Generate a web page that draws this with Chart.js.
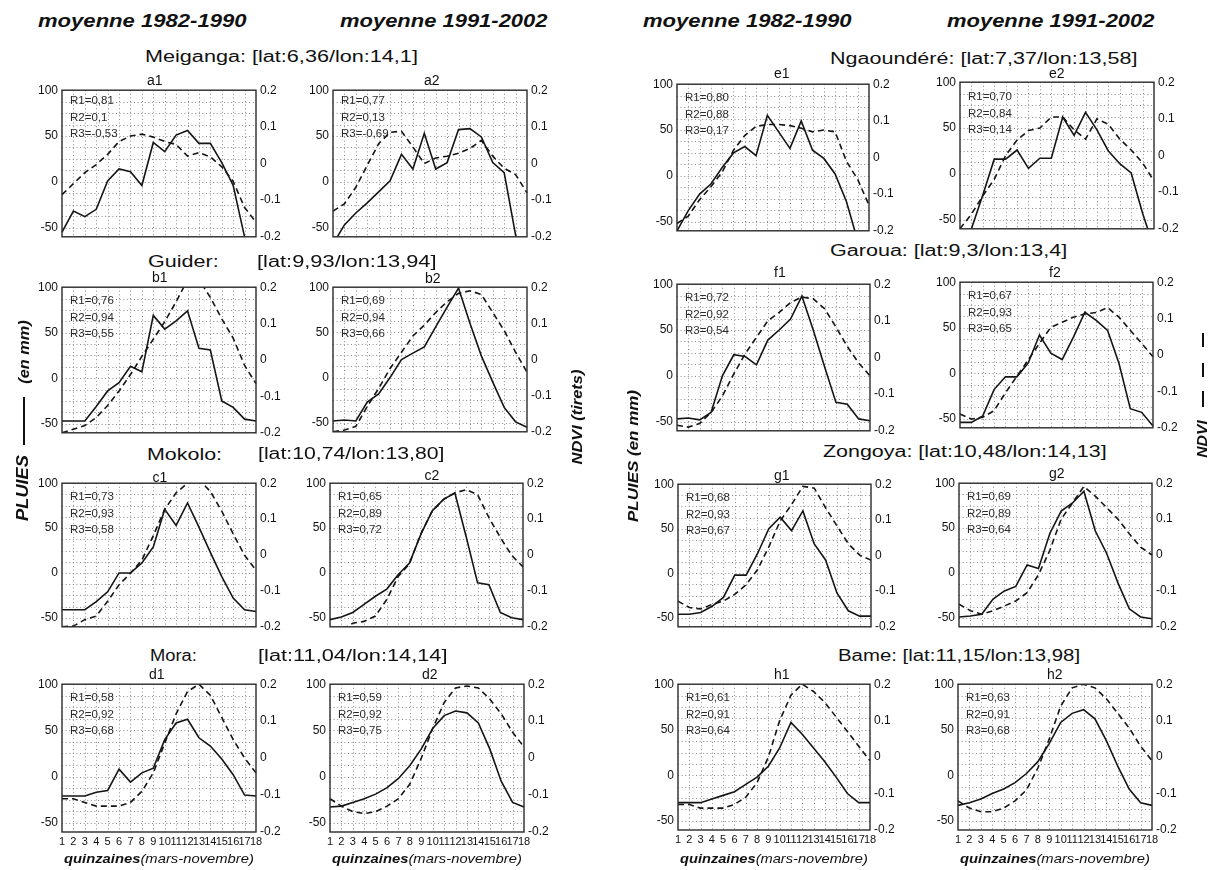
<!DOCTYPE html>
<html><head><meta charset="utf-8">
<script src="https://cdn.jsdelivr.net/npm/chart.js@4.4.1/dist/chart.umd.min.js"></script>
<style>
body{margin:0;background:#fff;width:1216px;height:870px;overflow:hidden;position:relative;}
.t{position:absolute;white-space:nowrap;color:#111;line-height:1;}
canvas{position:absolute;}
.bar{position:absolute;background:#111;}
</style></head><body>
<script>
// ---------- DATA ----------
const quinzaines = ['1','2','3','4','5','6','7','8','9','10','11','12','13','14','15','16','17','18'];
const pluieTicks = [-50, 0, 50, 100];
const ndviTicks = [-0.2, -0.1, 0, 0.1, 0.2];

// Meiganga
const pluie_a1 = [-55,-32,-38,-30,1,14,11,-4,43,33,51,56,42,42,21,-4,-60,-90];
const ndvi_a1  = [-0.085,-0.055,-0.025,-0.003,0.025,0.06,0.075,0.08,0.072,0.06,0.052,0.02,0.03,0.018,-0.009,-0.049,-0.12,-0.16];
const pluie_a2 = [-68,-47,-34,-23,-11,1,30,14,53,14,21,57,58,49,21,10,-58,-95];
const ndvi_a2  = [-0.13,-0.11,-0.065,-0.005,0.054,0.085,0.088,0.045,0.0,0.015,0.02,0.028,0.041,0.063,0.02,-0.013,-0.03,-0.08];
// Guider
const pluie_b1 = [-47,-47,-47,-31,-14,-5,13,7,69,54,63,74,33,31,-25,-32,-45,-47];
const ndvi_b1  = [-0.2,-0.19,-0.18,-0.158,-0.125,-0.085,-0.04,0.01,0.057,0.105,0.16,0.22,0.22,0.172,0.113,0.06,-0.015,-0.065];
const pluie_b2 = [-48,-47,-48,-27,-18,0,20,27,34,56,78,99,60,24,-5,-33,-49,-55];
const ndvi_b2  = [-0.2,-0.195,-0.185,-0.13,-0.08,-0.025,0.02,0.065,0.095,0.13,0.16,0.183,0.19,0.18,0.13,0.08,0.02,-0.035];
// Mokolo
const pluie_c1 = [-41,-41,-41,-32,-21,0,0,11,29,71,53,78,51,23,-4,-28,-41,-43];
const ndvi_c1  = [-0.2,-0.198,-0.18,-0.17,-0.129,-0.083,-0.051,-0.014,0.054,0.127,0.173,0.2,0.21,0.177,0.122,0.059,-0.001,-0.042];
const pluie_c2 = [-52,-49,-44,-35,-26,-18,-2,11,43,69,82,89,40,-11,-13,-44,-50,-52];
const ndvi_c2  = [-0.25,-0.21,-0.19,-0.185,-0.17,-0.124,-0.06,-0.024,0.059,0.122,0.155,0.173,0.182,0.168,0.104,0.049,-0.001,-0.033];
// Mora
const pluie_d1 = [-21,-21,-21,-17,-15,8,-6,4,9,40,58,62,42,33,19,2,-20,-21];
const ndvi_d1  = [-0.11,-0.11,-0.12,-0.13,-0.13,-0.13,-0.12,-0.09,-0.04,0.04,0.12,0.18,0.2,0.17,0.11,0.05,0.0,-0.04];
const pluie_d2 = [-33,-32,-28,-24,-19,-12,-2,12,30,52,66,71,69,58,30,-5,-28,-33];
const ndvi_d2  = [-0.11,-0.13,-0.145,-0.15,-0.145,-0.13,-0.11,-0.07,0.0,0.08,0.15,0.19,0.195,0.19,0.16,0.12,0.07,0.03];
// Ngaoundere
const pluie_e1 = [-60,-38,-20,-9,9,25,32,22,66,48,30,60,28,19,2,-28,-71,-97];
const ndvi_e1  = [-0.18,-0.16,-0.115,-0.08,-0.04,0.02,0.06,0.085,0.09,0.09,0.087,0.08,0.07,0.075,0.07,-0.01,-0.06,-0.13];
const pluie_e2 = [-92,-60,-23,16,16,26,6,17,17,62,42,67,48,25,11,1,-43,-81];
const ndvi_e2  = [-0.2,-0.16,-0.11,-0.065,0.0,0.042,0.068,0.075,0.105,0.105,0.07,0.045,0.1,0.085,0.045,0.015,-0.02,-0.07];
// Garoua
const pluie_f1 = [-47,-46,-48,-40,0,23,21,12,39,50,62,87,50,10,-29,-31,-47,-49];
const ndvi_f1  = [-0.185,-0.19,-0.18,-0.15,-0.105,-0.045,0.01,0.055,0.1,0.123,0.15,0.165,0.16,0.133,0.083,0.03,-0.015,-0.05];
const pluie_f2 = [-54,-54,-47,-18,-4,-4,11,42,22,15,40,67,58,47,11,-39,-43,-58];
const ndvi_f2  = [-0.162,-0.176,-0.171,-0.153,-0.104,-0.059,-0.014,0.032,0.076,0.09,0.104,0.113,0.117,0.13,0.104,0.068,0.032,-0.005];
// Zongoya
const pluie_g1 = [-46,-46,-44,-37,-27,-2,-2,22,50,63,48,70,33,15,-22,-42,-48,-48];
const ndvi_g1  = [-0.128,-0.146,-0.15,-0.137,-0.128,-0.109,-0.082,-0.04,0.024,0.097,0.143,0.194,0.189,0.134,0.083,0.033,0.001,-0.013];
const pluie_g2 = [-49,-48,-46,-29,-20,-15,9,5,44,69,78,91,47,22,-11,-40,-49,-51];
const ndvi_g2  = [-0.137,-0.155,-0.165,-0.155,-0.142,-0.128,-0.105,-0.055,0.013,0.1,0.145,0.191,0.164,0.132,0.1,0.059,0.022,0.0];
// Bame
const pluie_h1 = [-30,-30,-30,-26,-22,-18,-10,-2,10,30,58,45,30,15,-2,-20,-30,-30];
const ndvi_h1  = [-0.13,-0.13,-0.14,-0.14,-0.14,-0.13,-0.11,-0.07,0.0,0.1,0.17,0.2,0.18,0.15,0.11,0.07,0.03,-0.01];
const pluie_h2 = [-33,-30,-26,-20,-15,-8,2,15,35,58,68,72,62,38,10,-15,-30,-33];
const ndvi_h2  = [-0.12,-0.14,-0.15,-0.15,-0.14,-0.12,-0.09,-0.03,0.05,0.14,0.19,0.2,0.19,0.16,0.12,0.08,0.03,-0.01];

const corr_a1 = ['R1=0,81','R2=0,1','R3=-0,53'];
const corr_a2 = ['R1=0,77','R2=0,13','R3=-0,69'];
const corr_b1 = ['R1=0,76','R2=0,94','R3=0,55'];
const corr_b2 = ['R1=0,69','R2=0,94','R3=0,66'];
const corr_c1 = ['R1=0,73','R2=0,93','R3=0,58'];
const corr_c2 = ['R1=0,65','R2=0,89','R3=0,72'];
const corr_d1 = ['R1=0,58','R2=0,92','R3=0,68'];
const corr_d2 = ['R1=0,59','R2=0,92','R3=0,75'];
const corr_e1 = ['R1=0,80','R2=0,88','R3=0,17'];
const corr_e2 = ['R1=0,70','R2=0,84','R3=0,14'];
const corr_f1 = ['R1=0,72','R2=0,92','R3=0,54'];
const corr_f2 = ['R1=0,67','R2=0,93','R3=0,65'];
const corr_g1 = ['R1=0,68','R2=0,93','R3=0,67'];
const corr_g2 = ['R1=0,69','R2=0,89','R3=0,64'];
const corr_h1 = ['R1=0,61','R2=0,91','R3=0,64'];
const corr_h2 = ['R1=0,63','R2=0,91','R3=0,68'];

// ---------- LAYOUT ----------
const FAM = '"Liberation Sans", Arial, Helvetica, sans-serif';
const panels = [
  {id:'a1', p:pluie_a1, n:ndvi_a1, r:corr_a1, box:[62,89,256,238], rdy:11},
  {id:'a2', p:pluie_a2, n:ndvi_a2, r:corr_a2, box:[333,89,527,238], rdy:11},
  {id:'e1', p:pluie_e1, n:ndvi_e1, r:corr_e1, box:[677,83,869,232], rdy:14},
  {id:'e2', p:pluie_e2, n:ndvi_e2, r:corr_e2, box:[960,81,1154,230], rdy:15},
  {id:'b1', p:pluie_b1, n:ndvi_b1, r:corr_b1, box:[62,286,256,434], rdy:14},
  {id:'b2', p:pluie_b2, n:ndvi_b2, r:corr_b2, box:[333,286,527,433], rdy:14},
  {id:'f1', p:pluie_f1, n:ndvi_f1, r:corr_f1, box:[677,283,870,432], rdy:14},
  {id:'f2', p:pluie_f2, n:ndvi_f2, r:corr_f2, box:[960,281,1153,429], rdy:14},
  {id:'c1', p:pluie_c1, n:ndvi_c1, r:corr_c1, box:[62,482,256,628], rdy:14},
  {id:'c2', p:pluie_c2, n:ndvi_c2, r:corr_c2, box:[330,482,523,628], rdy:14},
  {id:'g1', p:pluie_g1, n:ndvi_g1, r:corr_g1, box:[678,483,871,628], rdy:14},
  {id:'g2', p:pluie_g2, n:ndvi_g2, r:corr_g2, box:[959,482,1152,628], rdy:14},
  {id:'d1', p:pluie_d1, n:ndvi_d1, r:corr_d1, box:[62,683,256,832], rdy:14, bottom:true},
  {id:'d2', p:pluie_d2, n:ndvi_d2, r:corr_d2, box:[330,683,524,832], rdy:14, bottom:true},
  {id:'h1', p:pluie_h1, n:ndvi_h1, r:corr_h1, box:[678,683,870,830], rdy:14, bottom:true},
  {id:'h2', p:pluie_h2, n:ndvi_h2, r:corr_h2, box:[958,683,1152,830], rdy:14, bottom:true}
];

const gridBox = {
  id:'gridBox',
  beforeDatasetsDraw(chart){
    const {ctx, chartArea:a, scales} = chart;
    ctx.save();
    ctx.strokeStyle = '#8c8c8c'; ctx.lineWidth = 1; ctx.setLineDash([1,2.6]);
    ctx.beginPath();
    for (let i = 1; i < quinzaines.length - 1; i++) {
      const x = Math.round(scales.x.getPixelForValue(i)) + 0.5;
      ctx.moveTo(x, a.top); ctx.lineTo(x, a.bottom);
    }
    for (let v = -50; v < 100; v += 12.5) {
      const y = Math.round(scales.y.getPixelForValue(v)) + 0.5;
      ctx.moveTo(a.left, y); ctx.lineTo(a.right, y);
    }
    ctx.stroke();
    ctx.restore();
  },
  afterDatasetsDraw(chart){
    const {ctx, chartArea:a} = chart;
    ctx.save();
    ctx.strokeStyle = '#2a2a2a'; ctx.lineWidth = 1.4; ctx.setLineDash([]);
    ctx.strokeRect(a.left, a.top, a.right - a.left, a.bottom - a.top);
    ctx.restore();
  }
};

function makePanel(pn){
  const [L,T,R,B] = pn.box;
  const padL = 44, padR = 44, padT = 10, padB = pn.bottom ? 20 : 10;
  const W = R - L, H = B - T;
  const cv = document.createElement('canvas');
  cv.width = W + padL + padR; cv.height = H + padT + padB;
  cv.style.left = (L - padL) + 'px'; cv.style.top = (T - padT) + 'px';
  cv.style.width = cv.width + 'px'; cv.style.height = cv.height + 'px';
  document.body.appendChild(cv);
  const noGrid = {display:false, drawTicks:false, tickLength:0};
  new Chart(cv, {
    type:'line',
    data:{labels:quinzaines, datasets:[
      {label:'Pluies', data:pn.p, yAxisID:'y', borderColor:'#151515', borderWidth:1.6, pointRadius:0, tension:0, fill:false},
      {label:'NDVI', data:pn.n, yAxisID:'y2', borderColor:'#151515', borderWidth:1.6, borderDash:[6,4], pointRadius:0, tension:0, fill:false}
    ]},
    options:{
      responsive:false, animation:false, devicePixelRatio:1,
      layout:{autoPadding:false, padding:{top:padT, bottom:0, left:0, right:0}},
      plugins:{legend:{display:false}, tooltip:{enabled:false}, title:{display:false}},
      scales:{
        x:{type:'category', offset:false, grid:noGrid, border:{display:false},
           ticks:{display:!!pn.bottom, autoSkip:false, maxRotation:0, minRotation:0, padding:3, color:'#111', font:{size:11, family:FAM}},
           afterFit:s=>{s.height = padB;}},
        y:{position:'left', min:-60, max:100, grid:noGrid, border:{display:false},
           afterBuildTicks:s=>{s.ticks = pluieTicks.map(v=>({value:v}));},
           ticks:{padding:4, color:'#111', font:{size:12, family:FAM}},
           afterFit:s=>{s.width = padL;}},
        y2:{position:'right', min:-0.2, max:0.2, grid:noGrid, border:{display:false},
           afterBuildTicks:s=>{s.ticks = ndviTicks.map(v=>({value:v}));},
           ticks:{padding:4, color:'#111', font:{size:12, family:FAM}, callback:v=>String(Math.round(v*10)/10)},
           afterFit:s=>{s.width = padR;}}
      }
    },
    plugins:[gridBox]
  });
}

function addText(html, o){
  const el = document.createElement('div');
  el.className = 't';
  el.innerHTML = html;
  el.style.font = `${o.style||'normal'} ${o.weight||'normal'} ${o.size||14}px ${FAM}`;
  el.style.color = o.color || '#111';
  document.body.appendChild(el);
  const mw = el.offsetWidth, h = el.offsetHeight;
  const s = o.w ? o.w / mw : 1;
  if (o.rot) {
    el.style.left = o.x + 'px'; el.style.top = o.y + 'px';
    el.style.transform = `translate(-50%,-50%) rotate(-90deg) scaleX(${s})`;
  } else {
    let left = o.x;
    if (o.align === 'center') left = o.x - (o.w || mw) / 2;
    el.style.left = left + 'px'; el.style.top = (o.y - h / 2) + 'px';
    el.style.transformOrigin = 'left center';
    el.style.transform = `scaleX(${s})`;
  }
}
function bar(x, y, w, h){
  const d = document.createElement('div'); d.className = 'bar';
  d.style.left = x + 'px'; d.style.top = y + 'px'; d.style.width = w + 'px'; d.style.height = h + 'px';
  document.body.appendChild(d);
}

panels.forEach(makePanel);

// column headers
const hdr = {size:19, weight:'bold', style:'italic'};
addText('moyenne 1982-1990', {...hdr, x:38, y:21, w:209});
addText('moyenne 1991-2002', {...hdr, x:340, y:21, w:208});
addText('moyenne 1982-1990', {...hdr, x:643, y:21, w:209});
addText('moyenne 1991-2002', {...hdr, x:947, y:21, w:208});

// station titles
const st = {size:16};
addText('Meiganga: [lat:6,36/lon:14,1]', {...st, x:145, y:57, w:273});
addText('Guider:', {...st, x:148, y:262, w:70});
addText('[lat:9,93/lon:13,94]', {...st, x:257, y:262, w:180});
addText('Mokolo:', {...st, x:147, y:455, w:75});
addText('[lat:10,74/lon:13,80]', {...st, x:258, y:454, w:187});
addText('Mora:', {...st, x:150, y:656, w:47});
addText('[lat:11,04/lon:14,14]', {...st, x:258, y:656, w:189});
addText('Ngaoundéré: [lat:7,37/lon:13,58]', {...st, x:830, y:59, w:308});
addText('Garoua: [lat:9,3/lon:13,4]', {...st, x:830, y:251, w:237});
addText('Zongoya: [lat:10,48/lon:14,13]', {...st, x:823, y:452, w:284});
addText('Bame: [lat:11,15/lon:13,98]', {...st, x:838, y:656, w:242});

// panel sub-titles
const subs = [['a1',155,80],['a2',432,80],['e1',782,73],['e2',1057,73],['b1',160,277],['b2',433,278],['f1',780,272],['f2',1055,272],
  ['c1',160,477],['c2',432,475],['g1',782,475],['g2',1057,473],['d1',157,674],['d2',430,674],['h1',782,674],['h2',1055,674]];
subs.forEach(([t,x,y]) => addText(t, {size:14, x:x, y:y, align:'center'}));

// correlation texts
panels.forEach(pn => {
  const [L,T] = pn.box;
  pn.r.forEach((s,i) => addText(s, {size:11.5, x:L+8, y:T+pn.rdy+i*16.5, color:'#2a2a2a'}));
});

// axis titles
addText('PLUIES', {size:16, weight:'bold', style:'italic', rot:true, x:23, y:488, w:66});
bar(23, 397, 2, 48);
addText('(en mm)', {size:15, weight:'bold', style:'italic', rot:true, x:23, y:352, w:63});
addText('NDVI (tirets)', {size:14, weight:'bold', style:'italic', rot:true, x:577, y:417, w:95});
addText('PLUIES <span style="font-weight:600">(en mm)</span>', {size:14, weight:'bold', style:'italic', rot:true, x:633, y:456, w:132});
addText('NDVI', {size:14, weight:'bold', style:'italic', rot:true, x:1202, y:439, w:37});
bar(1202, 333, 2, 14); bar(1202, 363, 2, 14); bar(1202, 391, 2, 16);

// x-axis titles
[[62,256],[330,524],[678,870],[958,1152]].forEach(([l,r]) =>
  addText('<b>quinzaines</b>(mars-novembre)', {size:13, style:'italic', x:(l+r)/2, y:858, w:r-l-4, align:'center'}));
</script>
</body></html>
